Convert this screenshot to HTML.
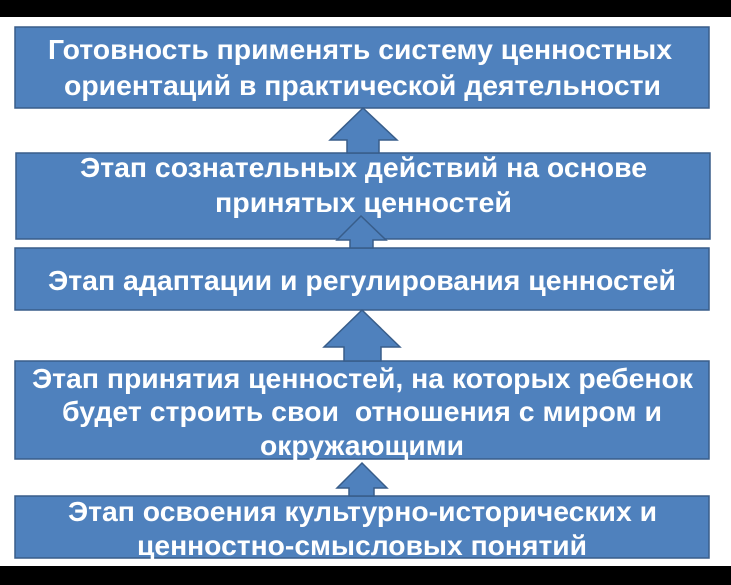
<!DOCTYPE html>
<html><head><meta charset="utf-8"><style>
html,body{margin:0;padding:0;background:#fff;}
svg{display:block;}
text{font-family:"Liberation Sans",Arial,sans-serif;font-weight:bold;font-size:28px;fill:#fff;}
</style></head><body>
<svg width="731" height="585" viewBox="0 0 731 585">
<rect x="0" y="0" width="731" height="17" fill="#000"/>
<rect x="0" y="566" width="731" height="19" fill="#000"/>
<g fill="#4F81BD" stroke="#385D8A" stroke-width="1.5">
<rect x="15" y="27" width="694" height="81"/>
<rect x="16" y="153" width="694" height="86"/>
<rect x="15" y="248" width="694" height="62"/>
<rect x="15" y="361" width="694" height="98"/>
<rect x="15" y="496" width="694" height="62"/>
<polygon points="363,108 397,140 379,140 379,153 347,153 347,140 330,140"/>
<polygon points="361,216 386,240 373,240 373,248 350,248 350,240 337,240"/>
<polygon points="362,310 400,347 381,347 381,361 344,361 344,347 324,347"/>
<polygon points="362,463 387,488 374,488 374,496 349,496 349,488 337,488"/>
</g>
<text x="48" y="59" textLength="624" lengthAdjust="spacingAndGlyphs">Готовность применять систему ценностных</text>
<text x="64" y="95" textLength="597" lengthAdjust="spacingAndGlyphs">ориентаций в практической деятельности</text>
<text x="80" y="177" textLength="567" lengthAdjust="spacingAndGlyphs">Этап сознательных действий на основе</text>
<text x="215" y="212" textLength="297" lengthAdjust="spacingAndGlyphs">принятых ценностей</text>
<text x="48" y="290" textLength="628" lengthAdjust="spacingAndGlyphs">Этап адаптации и регулирования ценностей</text>
<text x="32" y="388" textLength="661" lengthAdjust="spacingAndGlyphs">Этап принятия ценностей, на которых ребенок</text>
<text x="62" y="421" textLength="600" lengthAdjust="spacingAndGlyphs">будет строить свои&#160; отношения с миром и</text>
<text x="260" y="455" textLength="204" lengthAdjust="spacingAndGlyphs">окружающими</text>
<text x="68" y="521" textLength="589" lengthAdjust="spacingAndGlyphs">Этап освоения культурно-исторических и</text>
<text x="137" y="555" textLength="450" lengthAdjust="spacingAndGlyphs">ценностно-смысловых понятий</text>
</svg>
</body></html>
